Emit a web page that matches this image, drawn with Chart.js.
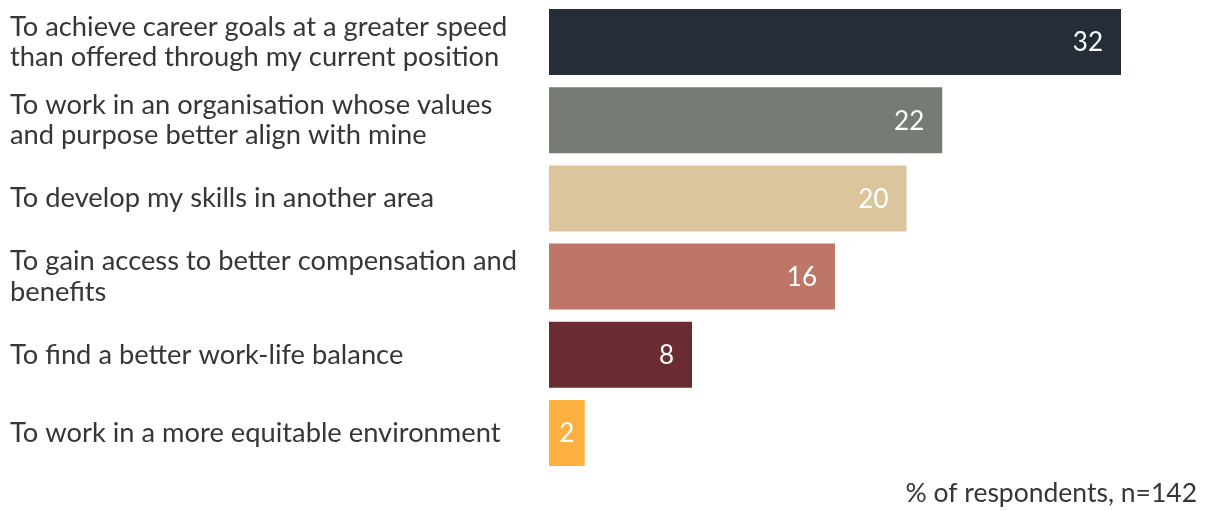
<!DOCTYPE html>
<html lang="en">
<head>
    <meta charset="UTF-8">
    <title>Reasons for leaving</title>
    <style>
        body {
            margin: 0;
            background-color: #ffffff;
        }
        #wrap {
            width: 1211px;
            height: 511px;
        }
    </style>
    <script src="https://cdn.jsdelivr.net/npm/chart.js"></script>
</head>
<body>

<div id="wrap">
    <canvas id="reasonsChart"></canvas>
</div>

<script>
    // Survey answers (multi-line labels as arrays)
    const reasons = [
        ['To achieve career goals at a greater speed', 'than offered through my current position'],
        ['To work in an organisation whose values', 'and purpose better align with mine'],
        'To develop my skills in another area',
        ['To gain access to better compensation and', 'benefits'],
        'To find a better work-life balance',
        'To work in a more equitable environment'
    ];
    const shares = [32, 22, 20, 16, 8, 2];
    const barColors = ['#252e38', '#767c74', '#dcc59c', '#be7666', '#6a2c30', '#fbb040'];
    const footNote = '% of respondents, n=142';

    const textColor = '#363636';
    const fontFamily = 'Lato, "Open Sans", sans-serif';

    // white value labels inside the end of each bar
    const valueLabels = {
        id: 'valueLabels',
        afterDatasetsDraw(chart) {
            const ctx = chart.ctx;
            const meta = chart.getDatasetMeta(0);
            ctx.save();
            ctx.font = '26px ' + fontFamily;
            ctx.fillStyle = '#ffffff';
            ctx.textBaseline = 'middle';
            meta.data.forEach((bar, i) => {
                const text = String(shares[i]);
                const w = ctx.measureText(text).width;
                const barWidth = bar.x - bar.base;
                if (barWidth < w + 30) {
                    ctx.textAlign = 'center';
                    ctx.fillText(text, (bar.x + bar.base) / 2, bar.y + 1);
                } else {
                    ctx.textAlign = 'right';
                    ctx.fillText(text, bar.x - 18, bar.y + 1);
                }
            });
            ctx.restore();
        }
    };

    const ctx = document.getElementById('reasonsChart').getContext('2d');
    const reasonsChart = new Chart(ctx, {
        type: 'bar',
        data: {
            labels: reasons,
            datasets: [{
                data: shares,
                backgroundColor: barColors,
                borderWidth: 0,
                categoryPercentage: 1,
                barPercentage: 0.844
            }]
        },
        options: {
            indexAxis: 'y',
            responsive: true,
            maintainAspectRatio: false,
            animation: false,
            layout: {
                padding: { left: 10, right: 14, top: 3, bottom: 0 }
            },
            plugins: {
                legend: { display: false },
                tooltip: { enabled: false }
            },
            scales: {
                x: {
                    min: 0,
                    max: 36.25,
                    grid: { display: false },
                    border: { display: false },
                    ticks: { display: false },
                    title: {
                        display: true,
                        text: footNote,
                        align: 'end',
                        color: textColor,
                        font: { family: fontFamily, size: 26.5 },
                        padding: { top: 0, bottom: 2 }
                    },
                    afterFit(scale) {
                        scale.height = 39;
                    }
                },
                y: {
                    grid: { display: false },
                    border: { display: false },
                    ticks: {
                        crossAlign: 'far',
                        color: textColor,
                        padding: 0,
                        font: { family: fontFamily, size: 27.3, lineHeight: 1.12 }
                    },
                    afterFit(scale) {
                        // keep the category band flush with the layout padding
                        scale.width = 539;
                        scale.paddingTop = 0;
                        scale.paddingBottom = 0;
                    }
                }
            }
        },
        plugins: [valueLabels]
    });
</script>

</body>
</html>
